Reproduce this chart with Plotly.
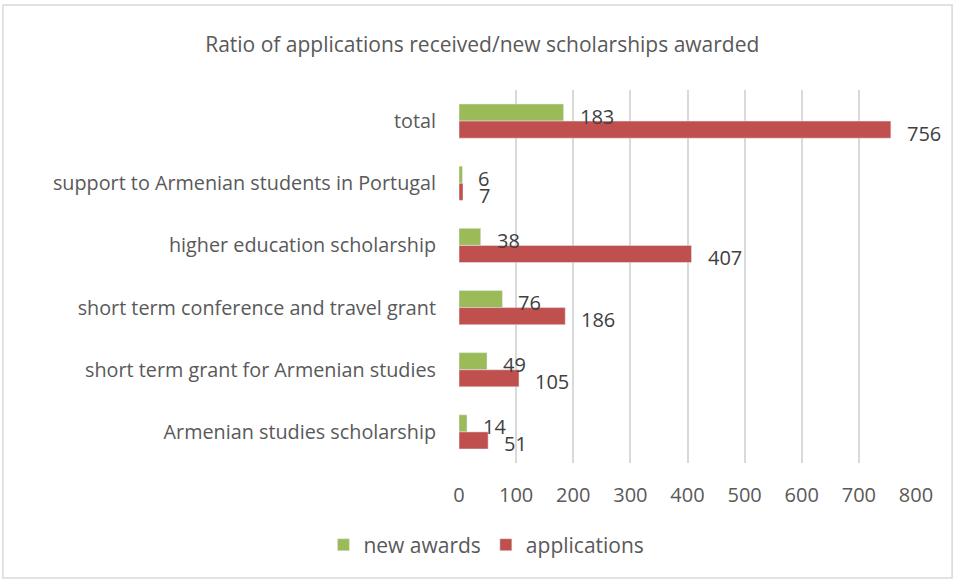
import plotly.graph_objects as go

categories = [
    "total",
    "support to Armenian students in Portugal",
    "higher education scholarship",
    "short term conference and travel grant",
    "short term grant for Armenian studies",
    "Armenian studies scholarship",
]
new_awards = [183, 6, 38, 76, 49, 14]
applications = [756, 7, 407, 186, 105, 51]
x_ticks = [0, 100, 200, 300, 400, 500, 600, 700, 800]

GREEN = "#9BBB59"
RED = "#C0504D"
TXT = "#595959"
FONT = "Open Sans"

fig = go.Figure()
fig.add_trace(go.Bar(y=categories, x=new_awards, orientation="h", name="new awards",
                     marker_color=GREEN))
fig.add_trace(go.Bar(y=categories, x=applications, orientation="h", name="applications",
                     marker_color=RED))

annotations = []
for c, v in zip(categories, new_awards):
    annotations.append(dict(x=v, y=c, text=str(v), showarrow=False, xanchor="left",
                            xshift=14, yshift=5, font=dict(family=FONT, size=20, color="#404040")))
for c, v in zip(categories, applications):
    annotations.append(dict(x=v, y=c, text=str(v), showarrow=False, xanchor="left",
                            xshift=14, yshift=-12, font=dict(family=FONT, size=20, color="#404040")))

fig.update_layout(
    width=955, height=581,
    margin=dict(l=459, r=39, t=90, b=118),
    paper_bgcolor="white", plot_bgcolor="white",
    font=dict(family=FONT, size=19.8, color=TXT),
    title=dict(text="Ratio of applications received/new scholarships awarded",
               x=0.505, xanchor="center", y=0.923, yanchor="middle",
               font=dict(family=FONT, size=21, color=TXT)),
    barmode="group", bargap=0.45, bargroupgap=0,
    showlegend=True,
    legend=dict(orientation="h", x=0.06, xanchor="center", y=-0.165, yanchor="top",
                font=dict(family=FONT, size=21, color=TXT), itemwidth=30),
    annotations=annotations,
    shapes=[dict(type="rect", xref="paper", yref="paper", x0=-0.998, x1=1.079,
                 y0=-0.308, y1=1.228, line=dict(color="#d9d9d9", width=1.5))],
)
fig.update_xaxes(range=[0, 800], tickvals=x_ticks, showgrid=True, gridcolor="#d9d9d9",
                 gridwidth=1.5, zeroline=False, showline=False,
                 tickfont=dict(family=FONT, size=20, color=TXT), ticklabelstandoff=18)
fig.update_yaxes(autorange="reversed", showgrid=False, showline=False,
                 tickfont=dict(family=FONT, size=19.8, color=TXT), ticklabelstandoff=22)

fig.write_html("out.html", config={"displayModeBar": False},
               post_script="document.body.style.margin='0';document.body.style.padding='0';")
